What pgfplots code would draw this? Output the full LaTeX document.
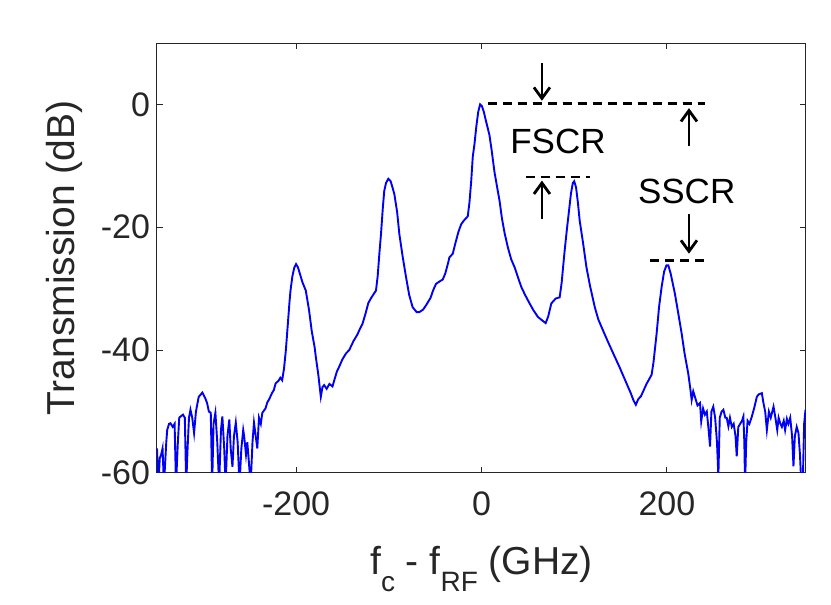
\documentclass[border=0pt]{standalone}
\usepackage{pgfplots}
\pgfplotsset{compat=1.18}
\usepackage{fontspec}
\setmainfont{Liberation Sans}
\usetikzlibrary{arrows.meta}
\definecolor{axgray}{gray}{0.15}
\definecolor{lineblue}{rgb}{0,0,0.95}
\newcommand{\sub}[1]{\raisebox{-0.42em}{\fontsize{14}{14}\selectfont #1}}
\pgfplotstableread{
x y
-350 -56
-348.5 -62
-347 -57.6
-345.5 -57
-344 -56
-342.5 -62
-340 -55
-339 -53
-337 -52
-335.5 -51.9
-333 -52.5
-331 -52
-329.5 -62
-327.5 -55
-326 -51
-324.5 -50.8
-322 -50.5
-320 -51
-318.5 -62
-317 -56
-315.5 -51
-313.9 -49.7
-312 -51
-310 -53.5
-308 -50
-305 -47.6
-301 -46.9
-298 -47.8
-296 -48.6
-294 -50
-292 -50.2
-290.5 -62
-289 -52
-287 -50.2
-285 -55
-283 -62
-281 -53
-279.5 -50.8
-277.5 -56
-276 -62
-274 -54
-272 -51.3
-270.5 -56
-268.6 -59
-267 -54
-265 -51.8
-263 -55
-261 -62
-259 -56
-257 -53
-256 -54
-254 -57
-252.6 -55
-251 -58
-249 -62
-247 -55
-245.4 -51.8
-243.5 -54
-241.8 -56
-240 -51
-238 -52
-236.4 -50.2
-233 -49.5
-231 -48.5
-229 -48
-226 -47
-224 -46.5
-222 -45.4
-219 -45
-217 -44.5
-215 -44.9
-213 -43
-211 -40
-209 -36
-207 -32
-206 -30.3
-204 -28
-202 -26.6
-200 -26
-198 -26.5
-196 -27.5
-193 -29
-189.5 -30.3
-186 -33.5
-183 -37
-180 -39.5
-178.7 -41.1
-176 -44
-173.3 -47.6
-171.5 -46
-169.7 -45.7
-167 -46.3
-164 -45.5
-160.7 -45.9
-158 -44.5
-156 -43.5
-153.5 -42.7
-150 -41.5
-146 -40.5
-142.7 -40
-138 -38.5
-134 -37.5
-131 -36.5
-128.3 -35.7
-125 -34
-122 -32.3
-119 -31.5
-116 -30.8
-113.8 -30.3
-112 -28
-110 -24
-108.4 -21.1
-106.5 -17
-104.9 -14.1
-103 -12.8
-100.5 -12.1
-98 -12.5
-96 -13.5
-94 -14.6
-91 -17.5
-88.6 -21.1
-85 -24.8
-81.4 -28.1
-78 -31
-74.3 -33
-70 -33.8
-67 -33.8
-63 -33.4
-59.8 -32.7
-55 -31.5
-52 -30.2
-49 -29.2
-45 -28.8
-41.8 -28.5
-39 -27.5
-36 -25.8
-34.6 -24.9
-31 -24.3
-28 -22.5
-25 -20.8
-21.9 -19.5
-19 -18.9
-16.5 -18.5
-14.8 -18.2
-13 -16
-11.1 -12.5
-9.4 -8.5
-7.6 -6.5
-5.5 -3.5
-3.5 -1.2
-1.5 0
0.5 -0.3
2.5 -1.2
4.5 -2.5
6.5 -3.7
8.6 -5
11 -7.5
14 -11
17.6 -14.1
19.5 -15.7
22 -18.5
25 -21
28.5 -23.3
32 -25.2
35.7 -26.5
39 -28
42.9 -29.7
47 -31
51.9 -32.4
56 -33.5
60.9 -34.6
65 -35.1
69.2 -35.6
72 -34.5
75.3 -32.4
80 -31.6
84.3 -31.4
86.5 -29
88 -26.5
89.7 -23.8
92 -20.5
94.4 -17.3
96.5 -14.5
98.5 -12.8
100 -12.5
102 -13.5
104 -16
105.9 -18.9
109.5 -22.5
113.2 -26.5
117 -29.5
122.2 -33
126 -35
131.1 -36.8
136 -38.5
142 -40.5
149 -42.8
156.4 -45.4
161 -47
164 -48.2
166.5 -48.9
169 -48
172 -47.5
174.4 -46.7
178 -45.5
183.5 -44
185.5 -42
188.9 -37.3
191.5 -33
194.3 -29.7
197 -27.2
199.5 -26.2
201.5 -26.2
204 -27.5
208.6 -30.8
212 -33.8
215.9 -37.3
219 -40.5
223 -43.8
225 -46
226.7 -48.1
228.4 -46.7
231 -48
233 -49
235.7 -48.6
237 -51.6
239 -49.5
241 -50.5
243 -50
245 -53
246.5 -55.7
248 -50
250 -49.2
252 -51
254 -55
255.5 -60.5
257 -51
259 -50
260.9 -49.7
263 -51
264.5 -51
266.3 -52.4
268 -51
270 -52.5
272 -52
274 -54
275.3 -57.3
277 -52.5
279 -52
281 -51.5
282.5 -50.8
283.5 -55
284.3 -62
285.5 -55
287 -51.5
289 -52
291.6 -50.8
294 -49.5
297 -47.6
299 -47.2
302.4 -47
304 -48.5
306 -50
307.8 -53
310 -50
312 -51
315 -49.2
317 -51
319 -53
320.5 -51
322.2 -51.9
324 -52.5
326 -51.5
327.5 -53
329.4 -51.2
331 -52
333 -51
335 -54
336.5 -58.9
338 -54
340 -52.5
341.9 -53.5
343.5 -57
345 -62
346.5 -62
348 -52
349.5 -49.7
}\spectrum
\begin{document}
\begin{tikzpicture}
\path[use as bounding box] (-78.5pt,-66pt) rectangle (337pt,236.5pt);
\begin{axis}[
  scale only axis, width=324.5pt, height=215pt,
  xmin=-350, xmax=350, ymin=-60, ymax=10,
  xtick={-200,0,200}, ytick={-60,-40,-20,0},
  tick align=inside, major tick length=3pt,
  axis line style={axgray, line width=0.5pt},
  tick style={axgray, line width=0.5pt},
  ticklabel style={font=\fontsize{17}{17}\selectfont, text=axgray},
  /pgf/number format/assume math mode=true,
  x tick label style={yshift=-6pt},
  xlabel={f\sub{c} - f\sub{RF} (GHz)},
  ylabel={Transmission (dB)},
  label style={font=\fontsize{19.5}{19.5}\selectfont, text=axgray},
  xlabel style={at={(axis description cs:0.5,-0.237)}, anchor=base},
  ylabel style={at={(axis description cs:-0.143,0.5)}, anchor=center},
  clip=true,
]
\addplot[lineblue, line width=0.95pt, no markers] table[x=x,y=y] {\spectrum};
\draw[black, line width=1.35pt, dash pattern=on 4.5pt off 3pt] (axis cs:6.5,0.2) -- (axis cs:241,0.2);
\draw[black, line width=1.35pt, dash pattern=on 4.5pt off 3pt] (axis cs:47.6,-11.8) -- (axis cs:116.8,-11.8);
\draw[black, line width=1.35pt, dash pattern=on 4.5pt off 3pt] (axis cs:182,-25.4) -- (axis cs:243,-25.4);
\draw[black, line width=1.4pt, -{Straight Barb[length=5.5pt,width=8pt]}] (axis cs:65.2,6.7) -- (axis cs:65.2,0.6);
\draw[black, line width=1.4pt, -{Straight Barb[length=5.5pt,width=8pt]}] (axis cs:65.2,-18.7) -- (axis cs:65.2,-12.4);
\draw[black, line width=1.4pt, -{Straight Barb[length=5.5pt,width=8pt]}] (axis cs:223.8,-6.8) -- (axis cs:223.8,-0.6);
\draw[black, line width=1.4pt, -{Straight Barb[length=5.5pt,width=8pt]}] (axis cs:223.8,-17.9) -- (axis cs:223.8,-24.3);
\node[font=\fontsize{17.5}{17.5}\selectfont] at (axis cs:82.5,-6) {FSCR};
\node[font=\fontsize{17.5}{17.5}\selectfont] at (axis cs:221.3,-14.1) {SSCR};
\end{axis}
\end{tikzpicture}
\end{document}
